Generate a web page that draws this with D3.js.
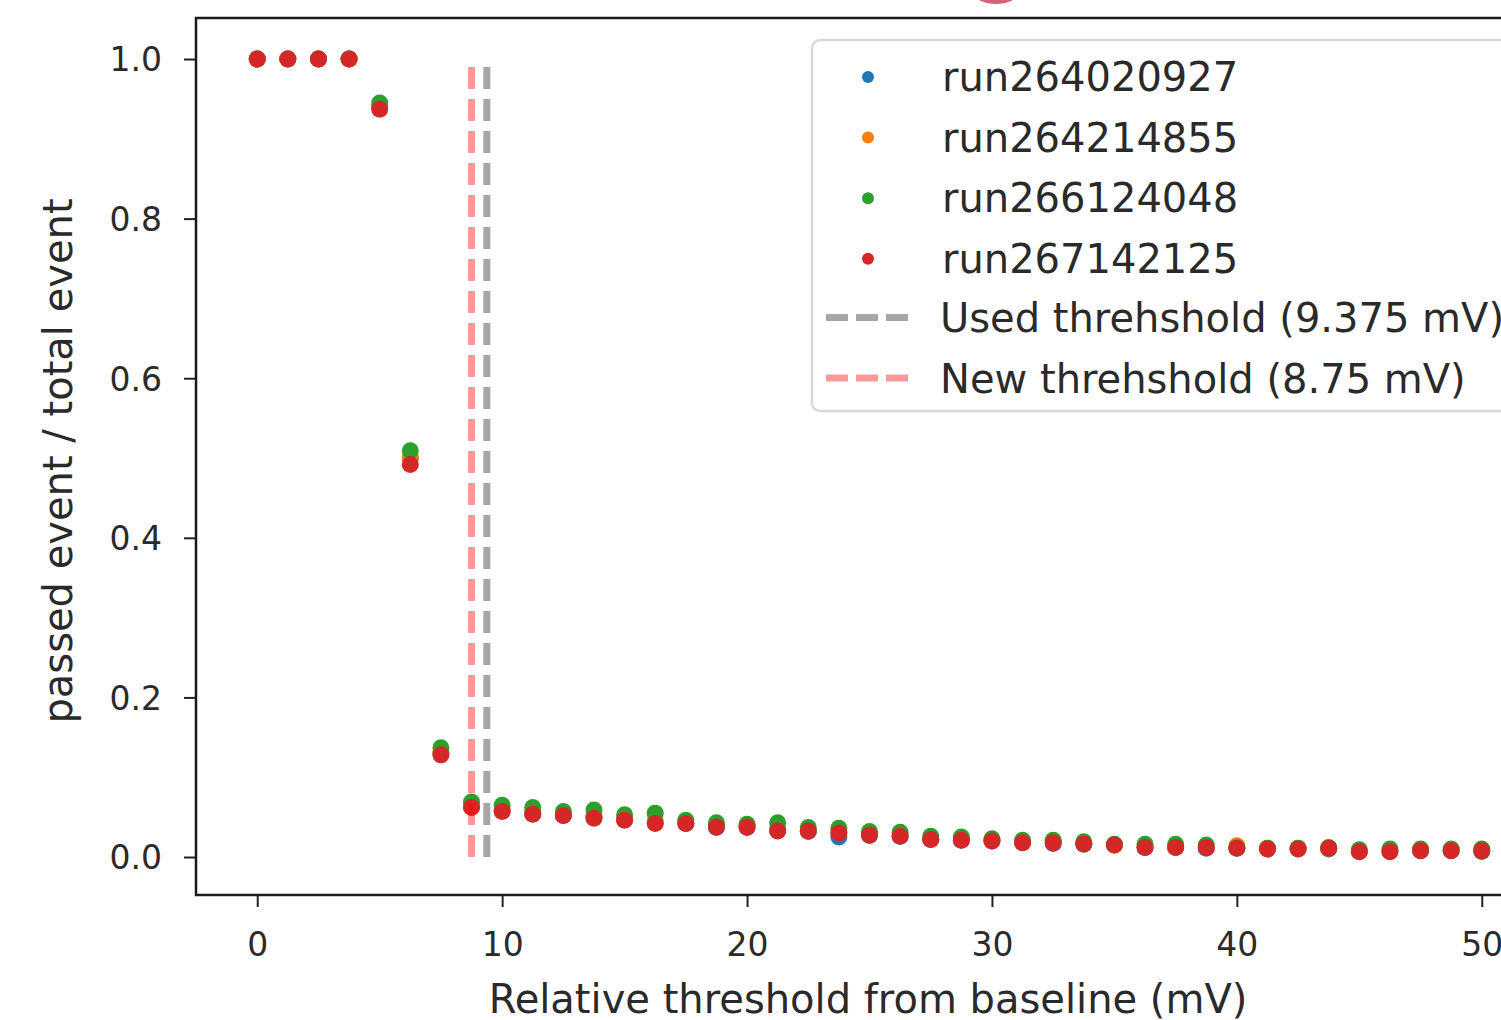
<!DOCTYPE html>
<html>
<head>
<meta charset="utf-8">
<script src="https://cdn.jsdelivr.net/npm/d3@7"></script>
<style>
  body { margin: 0; background: #fff; overflow: hidden; }
  text { font-family: "DejaVu Sans", sans-serif; }
</style>
</head>
<body>
<div id="chart"></div>
<script>
// thresholds scanned (mV)
var thresholds = [0, 1.25, 2.5, 3.75, 5, 6.25, 7.5, 8.75, 10, 11.25, 12.5, 13.75, 15, 16.25, 17.5, 18.75,
    20, 21.25, 22.5, 23.75, 25, 26.25, 27.5, 28.75, 30, 31.25, 32.5, 33.75, 35, 36.25, 37.5, 38.75,
    40, 41.25, 42.5, 43.75, 45, 46.25, 47.5, 48.75, 50];

var run264020927 = [1, 1, 1, 1, 0.940, 0.500, 0.130, 0.063, 0.058, 0.054, 0.052, 0.050, 0.047, 0.043, 0.042, 0.037,
    0.037, 0.033, 0.032, 0.025, 0.027, 0.026, 0.022, 0.021, 0.020, 0.018, 0.017, 0.016, 0.015, 0.012, 0.012, 0.011,
    0.011, 0.010, 0.010, 0.010, 0.007, 0.007, 0.008, 0.008, 0.007];
var run264214855 = [1, 1, 1, 1, 0.940, 0.500, 0.132, 0.065, 0.060, 0.056, 0.054, 0.051, 0.048, 0.045, 0.043, 0.040,
    0.038, 0.035, 0.033, 0.031, 0.029, 0.027, 0.023, 0.022, 0.021, 0.019, 0.019, 0.017, 0.015, 0.013, 0.013, 0.013,
    0.014, 0.011, 0.011, 0.011, 0.008, 0.008, 0.009, 0.009, 0.009];
var run266124048 = [1, 1, 1, 1, 0.945, 0.509, 0.137, 0.069, 0.065, 0.062, 0.057, 0.059, 0.053, 0.055, 0.046, 0.043,
    0.041, 0.043, 0.037, 0.036, 0.032, 0.031, 0.026, 0.025, 0.023, 0.021, 0.021, 0.019, 0.016, 0.016, 0.016, 0.015,
    0.012, 0.011, 0.011, 0.012, 0.009, 0.010, 0.010, 0.010, 0.010];
var run267142125 = [1, 1, 1, 1, 0.937, 0.492, 0.128, 0.062, 0.057, 0.0535, 0.052, 0.0485, 0.046, 0.042, 0.042, 0.0376,
    0.0376, 0.0326, 0.0326, 0.030, 0.0276, 0.026, 0.022, 0.021, 0.020, 0.018, 0.018, 0.0163, 0.015, 0.012, 0.012, 0.012,
    0.011, 0.010, 0.010, 0.011, 0.0067, 0.0067, 0.008, 0.008, 0.008];

var runNames = ["run264020927", "run264214855", "run266124048", "run267142125"];
var runValues = [run264020927, run264214855, run266124048, run267142125];
var runColors = ["#1f77b4", "#ff7f0e", "#2ca02c", "#d62728"];

var usedThreshold = 9.375;
var newThreshold = 8.75;
var xTicks = [0, 10, 20, 30, 40, 50];
var yTicks = [0, 0.2, 0.4, 0.6, 0.8, 1.0];

var width = 1501;
var height = 1020;

var svg = d3.select("#chart")
    .append("svg")
    .attr("width", width)
    .attr("height", height);

var x = d3.scaleLinear().domain([-2.5, 52.5]).range([196, 1543]);
var y = d3.scaleLinear().domain([-0.0476, 1.0514]).range([895, 18]);

// scatter, one layer per run (red ends on top)
runValues.forEach(function(vals, i) {
    svg.append("g")
        .selectAll("circle")
        .data(thresholds.map(function(t, j) { return { t: t, v: vals[j] }; }))
        .enter()
        .append("circle")
        .attr("cx", function(d) { return x(d.t); })
        .attr("cy", function(d) { return y(d.v); })
        .attr("r", 8.5)
        .attr("fill", runColors[i]);
});

// threshold lines
var lines = [
    { t: usedThreshold, color: "gray", opacity: 0.7 },
    { t: newThreshold, color: "red", opacity: 0.4 }
];
svg.selectAll(".vline")
    .data(lines)
    .enter()
    .append("line")
    .attr("x1", function(d) { return x(d.t); })
    .attr("x2", function(d) { return x(d.t); })
    .attr("y1", y(0))
    .attr("y2", y(1))
    .attr("stroke", function(d) { return d.color; })
    .attr("stroke-opacity", function(d) { return d.opacity; })
    .attr("stroke-width", 7)
    .attr("stroke-dasharray", "22,10");

// axes
var xAxis = svg.append("g")
    .attr("transform", "translate(0," + 895 + ")")
    .call(d3.axisBottom(x).tickValues(xTicks).tickFormat(d3.format("d")).tickSize(12).tickPadding(26));
var yAxis = svg.append("g")
    .attr("transform", "translate(" + 196 + ",0)")
    .call(d3.axisLeft(y).tickValues(yTicks).tickFormat(d3.format(".1f")).tickSize(12).tickPadding(22));

[xAxis, yAxis].forEach(function(ax) {
    ax.select(".domain").remove();
    ax.selectAll("line").attr("stroke", "#222").attr("stroke-width", 2);
    ax.selectAll("text")
        .style("font-size", "33px")
        .style("font-family", "DejaVu Sans")
        .attr("fill", "#2a2a2a");
});
yAxis.selectAll("text").attr("dy", "0.36em");

// frame
svg.append("rect")
    .attr("x", 196)
    .attr("y", 18)
    .attr("width", 1543 - 196)
    .attr("height", 895 - 18)
    .attr("fill", "none")
    .attr("stroke", "#1a1a1a")
    .attr("stroke-width", 2.5);

// axis labels
svg.append("text")
    .attr("x", 868)
    .attr("y", 1013)
    .attr("text-anchor", "middle")
    .style("font-size", "40px")
    .attr("fill", "#2a2a2a")
    .text("Relative threshold from baseline (mV)");

svg.append("text")
    .attr("transform", "translate(72,461) rotate(-90)")
    .attr("text-anchor", "middle")
    .style("font-size", "40px")
    .attr("fill", "#2a2a2a")
    .text("passed event / total event");

// legend
var legend = svg.append("g");
legend.append("rect")
    .attr("x", 812)
    .attr("y", 40)
    .attr("width", 760)
    .attr("height", 371)
    .attr("rx", 8)
    .attr("fill", "white")
    .attr("fill-opacity", 0.8)
    .attr("stroke", "#d8d8d8")
    .attr("stroke-width", 2.5);

var rowY = d3.scaleLinear().domain([0, 5]).range([77, 380]);

runNames.forEach(function(name, i) {
    legend.append("circle")
        .attr("cx", 868)
        .attr("cy", rowY(i))
        .attr("r", 6)
        .attr("fill", runColors[i]);
    legend.append("text")
        .attr("x", 942)
        .attr("y", rowY(i) + 14)
        .style("font-size", "40px")
        .attr("fill", "#2a2a2a")
        .text(name);
});

var lineLabels = ["Used threhshold (9.375 mV)", "New threhshold (8.75 mV)"];
lines.forEach(function(d, i) {
    var yy = rowY(i + 4) - 2;
    legend.append("line")
        .attr("x1", 826)
        .attr("x2", 908)
        .attr("y1", yy)
        .attr("y2", yy)
        .attr("stroke", d.color)
        .attr("stroke-opacity", d.opacity)
        .attr("stroke-width", 7)
        .attr("stroke-dasharray", "22,8");
    legend.append("text")
        .attr("x", 940)
        .attr("y", yy + 15)
        .style("font-size", "40px")
        .attr("fill", "#2a2a2a")
        .text(lineLabels[i]);
});

// bit of red mark poking in at the top edge
svg.append("ellipse")
    .attr("cx", 996)
    .attr("cy", -22)
    .attr("rx", 30)
    .attr("ry", 24)
    .attr("fill", "none")
    .attr("stroke", "#d9607a")
    .attr("stroke-width", 4);
</script>
</body>
</html>
